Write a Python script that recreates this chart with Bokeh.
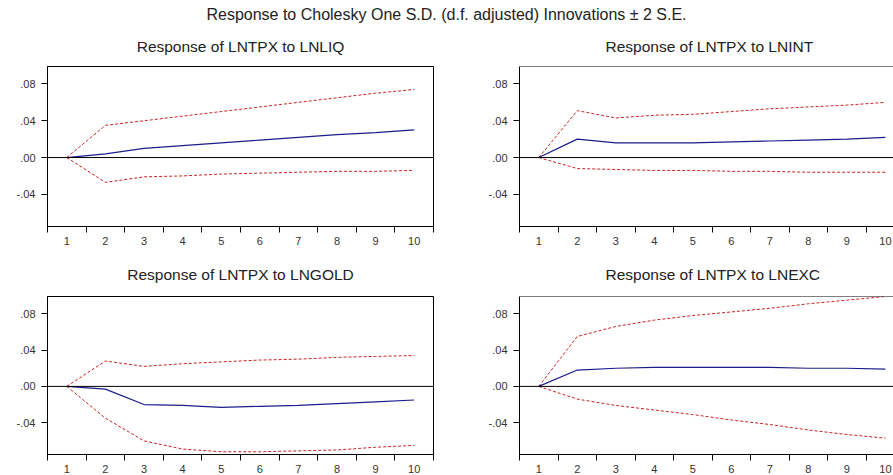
from bokeh.plotting import figure
from bokeh.layouts import column, row
from bokeh.models import Div, Span, FixedTicker, Range1d
from bokeh.embed import file_html
from bokeh.resources import INLINE

main_title = "Response to Cholesky One S.D. (d.f. adjusted) Innovations \u00b1 2 S.E."
panel_titles = ["Response of LNTPX to LNLIQ", "Response of LNTPX to LNINT",
                "Response of LNTPX to LNGOLD", "Response of LNTPX to LNEXC"]

periods = [1, 2, 3, 4, 5, 6, 7, 8, 9, 10]
period_labels = ["1", "2", "3", "4", "5", "6", "7", "8", "9", "10"]
period_bounds = [0.5, 1.5, 2.5, 3.5, 4.5, 5.5, 6.5, 7.5, 8.5, 9.5, 10.5]

y_tick_values = [-0.04, 0.0, 0.04, 0.08]
y_tick_labels = ["-.04", ".00", ".04", ".08"]

liq_resp = [0.000, 0.004, 0.010, 0.013, 0.016, 0.019, 0.022, 0.025, 0.027, 0.030]
liq_upper = [0.000, 0.035, 0.040, 0.045, 0.050, 0.055, 0.060, 0.065, 0.070, 0.074]
liq_lower = [0.000, -0.027, -0.021, -0.020, -0.018, -0.017, -0.016, -0.015, -0.015, -0.014]

int_resp = [0.000, 0.020, 0.016, 0.016, 0.016, 0.017, 0.018, 0.019, 0.020, 0.022]
int_upper = [0.000, 0.051, 0.043, 0.046, 0.047, 0.050, 0.053, 0.055, 0.057, 0.060]
int_lower = [0.000, -0.012, -0.013, -0.014, -0.014, -0.015, -0.015, -0.016, -0.016, -0.016]

gold_resp = [0.000, -0.003, -0.020, -0.021, -0.023, -0.022, -0.021, -0.019, -0.017, -0.015]
gold_upper = [0.000, 0.028, 0.022, 0.025, 0.027, 0.029, 0.030, 0.032, 0.033, 0.034]
gold_lower = [0.000, -0.035, -0.060, -0.069, -0.072, -0.072, -0.071, -0.070, -0.067, -0.065]

exc_resp = [0.000, 0.018, 0.020, 0.021, 0.021, 0.021, 0.021, 0.020, 0.020, 0.019]
exc_upper = [0.000, 0.055, 0.066, 0.073, 0.078, 0.082, 0.086, 0.091, 0.095, 0.099]
exc_lower = [0.000, -0.014, -0.021, -0.026, -0.031, -0.037, -0.042, -0.048, -0.053, -0.057]

Y_MIN, Y_MAX = -0.075, 0.099
FONT = "Liberation Sans"


def make_panel(title, resp, upper, lower, x_end, width, height, bl, br, bt, bb,
               title_standoff, title_align="center", title_offset=0, open_right=False):
    p = figure(width=width, height=height, x_range=Range1d(0.5, x_end),
               y_range=Range1d(Y_MIN, Y_MAX), output_backend="svg",
               toolbar_location=None, min_border_left=bl, min_border_right=br,
               min_border_top=bt, min_border_bottom=bb, title=title)
    p.title.align = title_align
    p.title.offset = title_offset
    p.title.text_font = FONT
    p.title.text_font_size = "15.5px"
    p.title.text_font_style = "normal"
    p.title.text_color = "#222222"
    p.title.standoff = title_standoff
    p.grid.visible = False
    p.background_fill_color = "white"
    p.border_fill_color = "white"
    if open_right:
        # the frame continues past the right edge of the picture
        p.outline_line_color = None
        p.add_layout(Span(location=Y_MAX, dimension="width", line_color="black", line_width=1))
    else:
        p.outline_line_color = "black"
        p.outline_line_alpha = 1.0

    xa = p.xaxis[0]
    xa.ticker = FixedTicker(ticks=periods, minor_ticks=period_bounds)
    xa.major_label_overrides = {v: l for v, l in zip(periods, period_labels)}
    xa.major_tick_out = 0
    xa.major_tick_in = 0
    xa.minor_tick_out = 6
    xa.minor_tick_in = 0
    xa.minor_tick_line_color = "black"
    xa.axis_line_color = "black"
    xa.major_label_standoff = 4
    xa.major_label_text_font = FONT
    xa.major_label_text_font_size = "11px"
    xa.major_label_text_color = "#333333"

    ya = p.yaxis[0]
    ya.ticker = FixedTicker(ticks=y_tick_values, minor_ticks=[])
    ya.major_label_overrides = {v: l for v, l in zip(y_tick_values, y_tick_labels)}
    ya.major_tick_out = 6
    ya.major_tick_in = 0
    ya.minor_tick_out = 0
    ya.minor_tick_in = 0
    ya.major_tick_line_color = "black"
    ya.axis_line_color = "black"
    ya.major_label_standoff = 6
    ya.major_label_text_font = FONT
    ya.major_label_text_font_size = "11px"
    ya.major_label_text_color = "#333333"

    p.add_layout(Span(location=0, dimension="width", line_color="black", line_width=1))
    p.line(periods, upper, line_color="#cc2222", line_width=1, line_dash="3 2")
    p.line(periods, lower, line_color="#cc2222", line_width=1, line_dash="3 2")
    p.line(periods, resp, line_color="#1c1c8c", line_width=1.2)
    return p


LW, RW = 476, 417
HEAD_H, TOP_H, BOT_H = 24, 223, 228

p1 = make_panel(panel_titles[0], liq_resp, liq_upper, liq_lower, 10.5, LW, TOP_H,
                47, 43, 36, 19, 23)
p2 = make_panel(panel_titles[1], int_resp, int_upper, int_lower, 10.21, RW, TOP_H,
                43, 0, 36, 19, 23, "left", 86, True)
p3 = make_panel(panel_titles[2], gold_resp, gold_upper, gold_lower, 10.5, LW, BOT_H,
                47, 43, 49, 17, 28)
p4 = make_panel(panel_titles[3], exc_resp, exc_upper, exc_lower, 10.21, RW, BOT_H,
                43, 0, 49, 17, 28, "left", 86, True)

header = Div(text=('<div style="width:%dpx; text-align:center; white-space:nowrap; '
                   'font-family:\'Liberation Sans\'; font-size:16px; color:#222222; '
                   'line-height:18px; padding-top:6px;">%s</div>') % (LW + RW, main_title),
             width=LW + RW, height=HEAD_H, margin=(0, 0, 0, 0))

layout = column(header, row(p1, p2), row(p3, p4))

open("out.html", "w").write(file_html(layout, INLINE))
